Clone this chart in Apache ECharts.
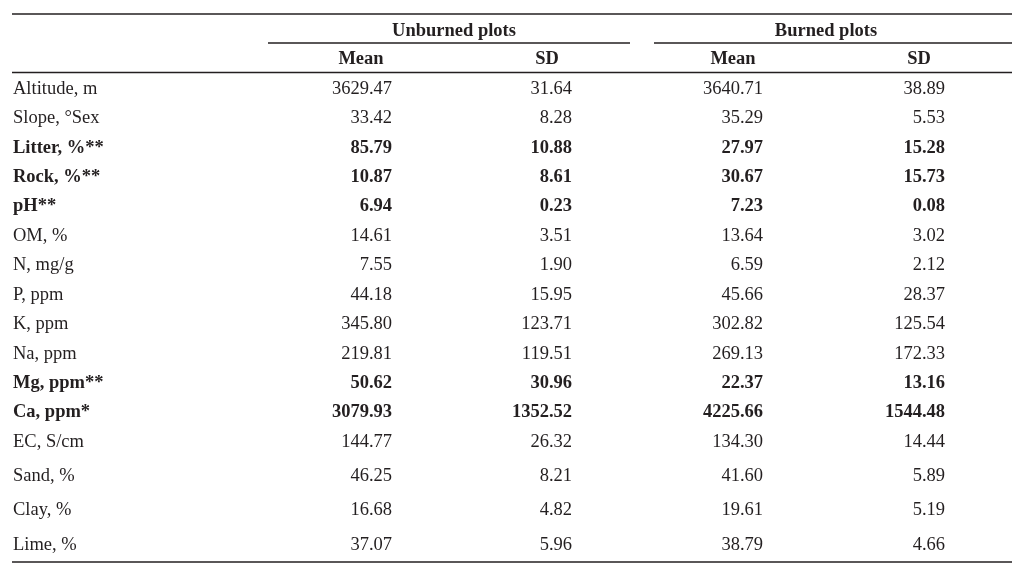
<!DOCTYPE html>
<html>
<head>
<meta charset="utf-8">
<script src="https://cdn.jsdelivr.net/npm/echarts@6/dist/echarts.min.js"></script>
<style>
  html, body { margin: 0; padding: 0; background: #fff; }
  #table1 { width: 1020px; height: 584px; }
</style>
</head>
<body>
<div id="table1"></div>
<script>
var rowLabels = ['Altitude, m', 'Slope, °Sex', 'Litter, %**', 'Rock, %**', 'pH**', 'OM, %', 'N, mg/g', 'P, ppm',
  'K, ppm', 'Na, ppm', 'Mg, ppm**', 'Ca, ppm*', 'EC, S/cm', 'Sand, %', 'Clay, %', 'Lime, %'];
var boldRows = [false, false, true, true, true, false, false, false, false, false, true, true, false, false, false, false];
var groupLabels = ['Unburned plots', 'Burned plots'];
var columnLabels = ['Mean', 'SD', 'Mean', 'SD'];
var unburnedMean = [3629.47, 33.42, 85.79, 10.87, 6.94, 14.61, 7.55, 44.18, 345.80, 219.81, 50.62, 3079.93, 144.77, 46.25, 16.68, 37.07];
var unburnedSD = [31.64, 8.28, 10.88, 8.61, 0.23, 3.51, 1.90, 15.95, 123.71, 119.51, 30.96, 1352.52, 26.32, 8.21, 4.82, 5.96];
var burnedMean = [3640.71, 35.29, 27.97, 30.67, 7.23, 13.64, 6.59, 45.66, 302.82, 269.13, 22.37, 4225.66, 134.30, 41.60, 19.61, 38.79];
var burnedSD = [38.89, 5.53, 15.28, 15.73, 0.08, 3.02, 2.12, 28.37, 125.54, 172.33, 13.16, 1544.48, 14.44, 5.89, 5.19, 4.66];

$init();

function $init() {
  var font = "'Liberation Serif', 'Times New Roman', serif";
  var ink = '#231f20';
  var fs = 18.5;
  var columns = [unburnedMean, unburnedSD, burnedMean, burnedSD];
  var colOffset = [31, 25, 30, 26];   // right edge of the numbers from the column centre
  var split = 13;                      // the last rows of the original sit a bit wider apart

  function cellsFor(from, to) {
    var out = [];
    columns.forEach(function (col, c) {
      for (var r = from; r < to; r++) {
        out.push({
          value: [c, r - from, col[r]],
          label: { fontWeight: boldRows[r] ? 'bold' : 'normal', offset: [colOffset[c], 0] }
        });
      }
    });
    return out;
  }

  function rowAxis(gridIndex, from, to) {
    return {
      type: 'category',
      gridIndex: gridIndex,
      data: rowLabels.slice(from, to),
      inverse: true,
      axisLine: { show: false },
      axisTick: { show: false },
      splitLine: { show: false },
      axisLabel: {
        align: 'left',
        margin: 255,
        fontFamily: font,
        fontSize: fs,
        color: ink,
        formatter: function (name, i) {
          return boldRows[from + i] ? '{b|' + name + '}' : '{n|' + name + '}';
        },
        rich: {
          b: { fontFamily: font, fontSize: fs, fontWeight: 'bold', color: ink },
          n: { fontFamily: font, fontSize: fs, color: ink }
        }
      }
    };
  }

  function valueSeries(axisIndex, from, to) {
    return {
      type: 'scatter',
      xAxisIndex: axisIndex,
      yAxisIndex: axisIndex,
      symbolSize: 0,
      silent: true,
      itemStyle: { opacity: 1 },
      data: cellsFor(from, to),
      label: {
        show: true,
        position: 'left',
        distance: 0,
        fontFamily: font,
        fontSize: fs,
        color: ink,
        formatter: function (p) { return p.value[2].toFixed(2); }
      }
    };
  }

  function rule(x1, x2, y) {
    return {
      type: 'line',
      shape: { x1: x1, y1: y, x2: x2, y2: y },
      style: { stroke: ink, lineWidth: 1.3 }
    };
  }

  var hidden = { show: false };

  var chart = echarts.init(document.getElementById('table1'));
  chart.setOption({
    animation: false,
    textStyle: { fontFamily: font, color: ink },
    grid: [
      { left: 268, right: 8, top: 74.3, height: 382.4 },
      { left: 268, right: 8, top: 458.8, height: 103.4 }
    ],
    xAxis: [
      {
        type: 'category',
        gridIndex: 0,
        data: columnLabels,
        position: 'top',
        axisLine: hidden,
        axisTick: hidden,
        splitLine: hidden,
        axisLabel: { fontFamily: font, fontSize: fs, fontWeight: 'bold', color: ink, margin: 6 }
      },
      {
        type: 'category',
        gridIndex: 1,
        data: columnLabels,
        axisLine: hidden,
        axisTick: hidden,
        splitLine: hidden,
        axisLabel: hidden
      },
      {
        type: 'category',
        gridIndex: 0,
        data: groupLabels,
        position: 'top',
        offset: 27,
        axisLine: hidden,
        axisTick: hidden,
        splitLine: hidden,
        axisLabel: { fontFamily: font, fontSize: fs, fontWeight: 'bold', color: ink, margin: 7 }
      }
    ],
    yAxis: [
      rowAxis(0, 0, split),
      rowAxis(1, split, rowLabels.length)
    ],
    series: [
      valueSeries(0, 0, split),
      valueSeries(1, split, rowLabels.length)
    ],
    graphic: [
      rule(12, 1012, 14),
      rule(268, 630, 43),
      rule(654, 1012, 43),
      rule(12, 1012, 72.5),
      rule(12, 1012, 562)
    ]
  });
}
</script>
</body>
</html>
